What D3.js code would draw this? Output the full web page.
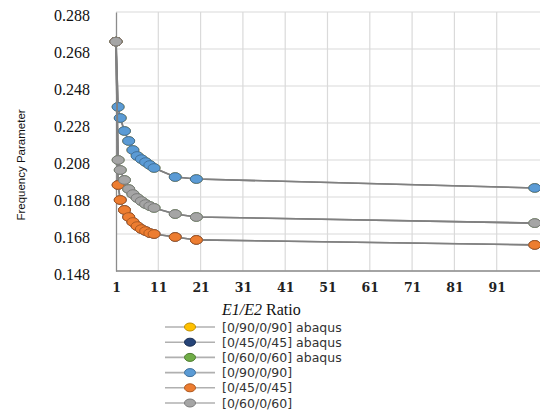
<!DOCTYPE html>
<html>
<head>
<meta charset="utf-8">
<script src="https://cdn.jsdelivr.net/npm/d3@7"></script>
<style>
  body { margin: 0; background: #fff; }
  svg { display: block; }
</style>
</head>
<body>
<svg id="chart" width="540" height="414"></svg>
<script>

/*************************************/
/*              Data                 */
/*************************************/
const ratios = [1, 1.5, 2, 3, 4, 5, 6, 7, 8, 9, 10, 15, 20, 100];

const cp90 = [0.272, 0.2367, 0.2307, 0.2237, 0.2183, 0.2134, 0.2102, 0.2085, 0.2069, 0.2053, 0.2037, 0.1988, 0.1977, 0.1929];
const cp45 = [0.272, 0.1945, 0.1864, 0.1810, 0.1772, 0.1745, 0.1723, 0.1707, 0.1696, 0.1685, 0.1680, 0.1664, 0.1648, 0.1621];
const cp60 = [0.272, 0.2080, 0.2026, 0.1972, 0.1923, 0.1896, 0.1875, 0.1858, 0.1842, 0.1831, 0.1821, 0.1788, 0.1772, 0.1739];

// abaqus results sit underneath the analytical ones
const abq90 = [0.272, 0.2367, 0.2307, 0.2237, 0.2183, 0.2134, 0.2102, 0.2085, 0.2069, 0.2053, 0.2037, 0.1988, 0.1977, 0.1929];
const abq45 = [0.272, 0.1945, 0.1864, 0.1810, 0.1772, 0.1745, 0.1723, 0.1707, 0.1696, 0.1685, 0.1680, 0.1664, 0.1648, 0.1621];
const abq60 = [0.272, 0.2080, 0.2026, 0.1972, 0.1923, 0.1896, 0.1875, 0.1858, 0.1842, 0.1831, 0.1821, 0.1788, 0.1772, 0.1739];

const yTicks = [0.148, 0.168, 0.188, 0.208, 0.228, 0.248, 0.268, 0.288];
const xTicks = [1, 11, 21, 31, 41, 51, 61, 71, 81, 91];

const series = [
  { label: "[0/90/0/90] abaqus", values: abq90, fill: "#ffc000", stroke: "#bf9000" },
  { label: "[0/45/0/45] abaqus", values: abq45, fill: "#264478", stroke: "#1a2f54" },
  { label: "[0/60/0/60] abaqus", values: abq60, fill: "#70ad47", stroke: "#507e32" },
  { label: "[0/90/0/90]",        values: cp90,  fill: "#5b9bd5", stroke: "#41719c" },
  { label: "[0/45/0/45]",        values: cp45,  fill: "#ed7d31", stroke: "#ae5a21" },
  { label: "[0/60/0/60]",        values: cp60,  fill: "#a5a5a5", stroke: "#7c7c7c" }
];

/*************************************/
/*            Layout                 */
/*************************************/
const svg = d3.select("#chart");

const plotLeft = 116;
const plotTop = 12;
const plotBottom = 271;

const xScale = d3.scaleLinear()
  .domain([1, 104])
  .range([plotLeft, plotLeft + 103 * 4.23]);

const yScale = d3.scaleLinear()
  .domain([0.148, 0.288])
  .range([plotBottom, plotTop]);

// gridlines
svg.append("g")
  .selectAll("line")
  .data(yTicks)
  .join("line")
    .attr("x1", plotLeft)
    .attr("x2", 540)
    .attr("y1", d => yScale(d))
    .attr("y2", d => yScale(d))
    .attr("stroke", "#dadada")
    .attr("stroke-width", 1.2);

svg.append("g")
  .selectAll("line")
  .data(xTicks.slice(1))
  .join("line")
    .attr("x1", d => xScale(d))
    .attr("x2", d => xScale(d))
    .attr("y1", plotTop)
    .attr("y2", plotBottom)
    .attr("stroke", "#dadada")
    .attr("stroke-width", 1.2);

// axes
const yAxis = svg.append("g")
  .attr("transform", `translate(${plotLeft},0)`)
  .call(d3.axisLeft(yScale).tickValues(yTicks).tickFormat(d3.format(".3f")).tickSize(0).tickPadding(26));

yAxis.select(".domain").attr("stroke", "#8c8c8c").attr("stroke-width", 1.3);
yAxis.selectAll("text")
  .attr("fill", "#111")
  .attr("dy", "0.5em")
  .style("font-family", "'Liberation Serif', 'DejaVu Serif', serif")
  .style("font-size", "16px");

const xAxis = svg.append("g")
  .attr("transform", `translate(0,${plotBottom})`)
  .call(d3.axisBottom(xScale).tickValues(xTicks).tickFormat(d3.format("d")).tickSize(0).tickPadding(12));

xAxis.select(".domain").remove();
svg.append("line")
  .attr("x1", plotLeft).attr("x2", 540)
  .attr("y1", plotBottom).attr("y2", plotBottom)
  .attr("stroke", "#8c8c8c").attr("stroke-width", 1.3);

xAxis.selectAll("text")
  .attr("fill", "#222")
  .style("font-family", "'DejaVu Serif', serif")
  .style("font-weight", 700)
  .style("font-size", "12.5px");

// axis titles
svg.append("text")
  .attr("transform", "translate(25,165) rotate(-90)")
  .attr("text-anchor", "middle")
  .attr("fill", "#111")
  .style("font-family", "'Liberation Sans Narrow', 'Liberation Sans', sans-serif")
  .style("font-size", "11.5px")
  .text("Frequency Parameter");

const xTitle = svg.append("text")
  .attr("x", 222)
  .attr("y", 315)
  .attr("fill", "#111")
  .style("font-family", "'Liberation Serif', serif")
  .style("font-size", "16px");

xTitle.append("tspan").style("font-style", "italic").text("E1/E2");
xTitle.append("tspan").text(" Ratio");

/*************************************/
/*         Lines and markers         */
/*************************************/
const line = d3.line()
  .x((d, i) => xScale(ratios[i]))
  .y(d => yScale(d));

const marks = svg.append("g");

series.forEach(s => {

  marks.append("path")
    .attr("d", line(s.values))
    .attr("fill", "none")
    .attr("stroke", "#808080")
    .attr("stroke-width", 1.6);

  marks.append("g")
    .selectAll("ellipse")
    .data(s.values)
    .join("ellipse")
      .attr("cx", (d, i) => xScale(ratios[i]))
      .attr("cy", d => yScale(d))
      .attr("rx", 6)
      .attr("ry", 4.3)
      .attr("fill", s.fill)
      .attr("stroke", s.stroke)
      .attr("stroke-width", 1);

});

/*************************************/
/*              Legend               */
/*************************************/
const legend = svg.append("g")
  .selectAll("g")
  .data(series)
  .join("g")
    .attr("transform", (d, i) => `translate(165,${327 + i * 15.2})`);

legend.append("line")
  .attr("x1", 0).attr("x2", 50)
  .attr("stroke", "#b0b0b0")
  .attr("stroke-width", 1.6);

legend.append("ellipse")
  .attr("cx", 25)
  .attr("rx", 5.5)
  .attr("ry", 4)
  .attr("fill", d => d.fill)
  .attr("stroke", d => d.stroke);

legend.append("text")
  .attr("x", 57)
  .attr("dy", "0.36em")
  .attr("fill", "#333")
  .style("font-family", "'DejaVu Sans', Verdana, sans-serif")
  .style("font-size", "12.5px")
  .text(d => d.label);

</script>
</body>
</html>
